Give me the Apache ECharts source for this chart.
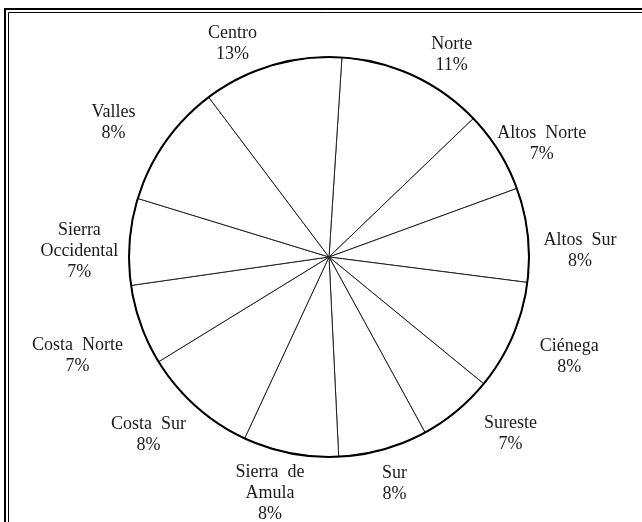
<!DOCTYPE html>
<html>
<head>
<meta charset="utf-8">
<script src="https://cdn.jsdelivr.net/npm/echarts@6/dist/echarts.min.js"></script>
<style>
  html, body { margin: 0; padding: 0; background: #fff; }
  #chart { width: 642px; height: 522px; }
</style>
</head>
<body>
<div id="chart"></div>
<script>
// regions in drawing order (clockwise from the top)
const regions = ['Norte', 'Altos Norte', 'Altos Sur', 'Ciénega', 'Sureste', 'Sur',
  'Sierra de Amula', 'Costa Sur', 'Costa Norte', 'Sierra Occidental', 'Valles', 'Centro']
// label text as printed (line breaks as in the picture)
const regionLabels = ['Norte', 'Altos  Norte', 'Altos  Sur', 'Ciénega', 'Sureste', 'Sur',
  'Sierra  de\nAmula', 'Costa  Sur', 'Costa  Norte', 'Sierra\nOccidental', 'Valles', 'Centro']
// slice sizes
const shares = [11.8, 6.6, 7.6, 8.9, 6.1, 7.2, 7.7, 9.3, 6.5, 7.0, 10.0, 11.3]
// percentages printed on the chart
const printedPct = ['11%', '7%', '8%', '8%', '7%', '8%', '8%', '8%', '7%', '7%', '8%', '13%']

// layout
const center = [329, 257]
const radius = 200
const startDeg = 3.7 // first boundary, degrees clockwise from north
// labels were moved by hand in the original: turn (deg) and push (px) each one a little
const labelTurnDeg = [6.3, 3.8, 5.0, -0.7, -6.0, -0.4, 2.9, 3.7, -1.5, -3.1, -3.1, -7.7]
const labelPushPx = [-4, -20, 2, 13, 8, 0, -7, 0, 8, -2, 12, -7]

const total = shares.reduce((a, b) => a + b, 0)
const midDeg = []
let acc = startDeg
shares.forEach(v => {
  const span = v / total * 360
  midDeg.push(acc + span / 2)
  acc += span
})

const chart = echarts.init(document.getElementById('chart'))
const font = '"Liberation Serif", "Times New Roman", serif'

chart.setOption({
  backgroundColor: '#fff',
  animation: false,
  title: {
    text: 'Municipios por región',
    left: 'center',
    top: -27,
    textStyle: { fontFamily: font, fontSize: 22, fontWeight: 'bold', color: '#000' }
  },
  graphic: [
    { type: 'rect', shape: { x: 5, y: 9, width: 700, height: 600 },
      style: { fill: 'none', stroke: '#000', lineWidth: 2 }, silent: true },
    { type: 'rect', shape: { x: 8.5, y: 12.5, width: 700, height: 600 },
      style: { fill: 'none', stroke: '#000', lineWidth: 1 }, silent: true }
  ],
  series: [
    {
      type: 'pie',
      center: center,
      radius: radius,
      startAngle: 90 - startDeg,
      clockwise: true,
      avoidLabelOverlap: false,
      silent: true,
      itemStyle: { color: '#fff', borderColor: '#222', borderWidth: 1 },
      label: {
        show: true,
        position: 'outside',
        fontFamily: font,
        fontSize: 18,
        lineHeight: 21,
        color: '#1a1a1a',
        align: 'center',
        formatter: p => regionLabels[p.dataIndex] + '\n' + printedPct[p.dataIndex]
      },
      labelLine: { show: false },
      labelLayout: params => {
        const i = params.dataIndex
        const a = (midDeg[i] + labelTurnDeg[i]) * Math.PI / 180
        const s = Math.sin(a)
        const c = Math.cos(a)
        const hw = params.labelRect.width / 2
        const hh = params.labelRect.height / 2
        const d = radius + 12 + labelPushPx[i] + hw * Math.abs(s) + hh * Math.abs(c)
        return {
          x: center[0] + d * s,
          y: center[1] - d * c,
          align: 'center',
          verticalAlign: 'middle'
        }
      },
      data: regions.map((name, i) => ({ name: name, value: shares[i] }))
    },
    {
      // heavier outline round the pie
      type: 'pie',
      center: center,
      radius: radius,
      silent: true,
      label: { show: false },
      labelLine: { show: false },
      itemStyle: { color: 'rgba(0,0,0,0)', borderColor: '#000', borderWidth: 2 },
      data: [{ name: 'outline', value: total }]
    }
  ]
})
</script>
</body>
</html>
